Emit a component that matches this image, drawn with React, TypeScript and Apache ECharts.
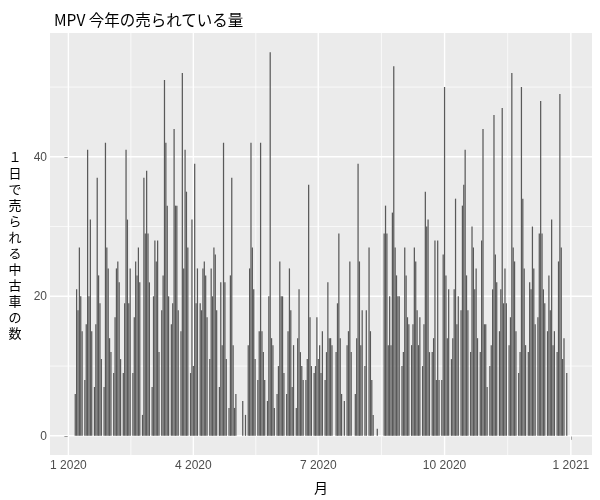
import React, { useEffect, useRef } from "react";
import * as echarts from "echarts";

// Daily number of used MPVs sold in 2020, one array per month (index = day of month - 1, null = no sales)
const jan = [null, null, null, null, null, 6, 21, 18, 27, 20, 15, null, 8, 16, 41, 20, 31, 15, null, 7, 16, 37, 23, 19, 11, null, 7, 42, 27, 24, 14];
const feb = [12, null, 9, 17, 24, 25, 22, 11, null, 9, 19, 41, 31, 19, 24, null, 9, 17, 25, 23, 27, 22, null, 3, 37, 29, 38, 29, 22];
const mar = [null, 7, 20, 28, 25, 28, 12, null, 18, 23, 51, 42, 33, 20, null, 16, 19, 44, 33, 33, 18, null, 15, 52, 24, 41, 35, 27, null, 9, 31];
const apr = [10, 39, 19, 24, null, 19, 18, 24, 25, 23, 17, null, 11, 24, 20, 27, 26, 18, null, 7, 22, 13, 42, 22, 11, null, 4, 23, 37, 13];
const may = [4, 6, null, null, null, null, 5, null, 3, null, 13, 24, 42, 27, 21, 11, null, 8, 15, 42, 15, 12, 8, null, 5, 20, 55, 14, 13, 4, null];
const jun = [6, 10, 25, 20, 20, 9, null, 6, 15, 24, 18, 7, 13, null, 4, 14, 21, 12, 10, 8, null, 8, 11, 36, 17, 10, null, 9, 10, 17];
const jul = [11, 13, 9, 15, null, 8, 12, 22, 14, 14, 13, null, null, 12, 19, 29, 14, 6, null, 5, null, 13, 15, 25, 12, null, null, 6, 14, 39, 25];
const aug = [13, 18, null, 10, 18, null, 27, 15, 8, 3, null, null, 1, null, null, null, null, 29, 33, 29, 13, 20, 13, 32, 53, 27, 23, 20, 20, null, 10];
const sep = [12, 27, 23, 17, 16, null, 13, 16, 27, 25, 18, 13, 17, null, 10, 16, 35, 30, 31, 12, null, 12, 14, 28, 8, 28, 8, null, 8, 26];
const oct = [50, 23, 14, 21, null, 11, 14, 21, 34, 16, 20, null, 18, 33, 36, 41, 23, 18, null, 12, 30, 27, 21, 24, 14, null, 12, 28, 44, 16, 16];
const nov = [7, null, 10, 13, 21, 46, 26, 22, null, 15, 21, 47, 19, 24, 19, null, 13, 17, 52, 27, 25, 15, null, 9, 12, 50, 34, 24, 13, null];
const dec = [12, 22, 21, 30, 24, 16, null, 17, 29, 48, 29, 21, 19, null, 15, 23, 18, 31, 13, 15, null, 12, 25, 49, 27, 11, 14, null, 9, null, null];

const months = [jan, feb, mar, apr, may, jun, jul, aug, sep, oct, nov, dec];
const year = 2020;

// x-axis breaks (dates) and y-axis breaks
const xBreakDates = ["2020-01-01", "2020-04-01", "2020-07-01", "2020-10-01", "2021-01-01"];
const yBreaks = [0, 20, 40];
const yMinorBreaks = [10, 30, 50];

const titleText = "MPV 今年の売られている量";
const xName = "月";
const yName = "１日で売られる中古車の数";

const DAY = 86400000;
const origin = Date.UTC(year, 0, 1);
const dayOf = (iso: string) => {
  const [y, m, d] = iso.split("-").map(Number);
  return (Date.UTC(y, m - 1, d) - origin) / DAY;
};

export default function App() {
  const ref = useRef<HTMLDivElement>(null);
  useEffect(() => {
    if (!ref.current) return;
    const chart = echarts.init(ref.current, undefined, { renderer: "svg" });

    const barData: [number, number][] = [];
    months.forEach((arr, m) => {
      arr.forEach((v, i) => {
        if (v == null) return;
        const d = (Date.UTC(year, m, i + 1) - origin) / DAY;
        barData.push([d, v as number]);
      });
    });
    const days = barData.map((p) => p[0]);
    const vals = barData.map((p) => p[1]);
    const dMin = Math.min(...days) - 0.45;
    const dMax = Math.max(...days) + 0.45;
    const dPad = (dMax - dMin) * 0.05;
    const vMax = Math.max(...vals);
    const yPad = vMax * 0.05;

    const majorX = xBreakDates.map(dayOf);
    const minorX = majorX.slice(0, -1).map((v, i) => (v + majorX[i + 1]) / 2);

    const labelFont = "'Liberation Sans', Arial, sans-serif";
    const cjkFont = "'Noto Sans CJK JP', 'Liberation Sans', sans-serif";

    chart.setOption({
      animation: false,
      title: {
        text: titleText,
        left: 49,
        top: 6,
        textStyle: { fontSize: 15.5, fontWeight: "normal", color: "#000", fontFamily: cjkFont },
      },
      grid: {
        left: 50,
        right: 8,
        top: 33,
        bottom: 45,
        show: true,
        backgroundColor: "#EBEBEB",
        borderWidth: 0,
      },
      xAxis: {
        type: "value",
        min: dMin - dPad,
        max: dMax + dPad,
        axisLine: { show: false },
        splitLine: { show: false },
        axisTick: { show: true, customValues: majorX, length: 4, lineStyle: { color: "#333", width: 1 } },
        axisLabel: {
          customValues: majorX,
          color: "#4D4D4D",
          fontSize: 12,
          margin: 4,
          fontFamily: labelFont,
          formatter: (v: number) => {
            const dt = new Date(origin + Math.round(v) * DAY);
            return `${dt.getUTCMonth() + 1} ${dt.getUTCFullYear()}`;
          },
        },
        name: xName,
        nameLocation: "middle",
        nameGap: 25,
        nameTextStyle: { color: "#000", fontSize: 14, fontFamily: cjkFont },
      },
      yAxis: {
        type: "value",
        min: -yPad,
        max: vMax + yPad,
        axisLine: { show: false },
        splitLine: { show: false },
        axisTick: { show: true, customValues: yBreaks, length: 4, lineStyle: { color: "#333", width: 1 } },
        axisLabel: {
          customValues: yBreaks,
          color: "#4D4D4D",
          fontSize: 12,
          margin: 3,
          fontFamily: labelFont,
        },
        name: yName.split("").join("\n"),
        nameLocation: "middle",
        nameRotate: 0,
        nameGap: 35,
        nameTextStyle: {
          color: "#000",
          fontSize: 13,
          lineHeight: 16,
          align: "center",
          verticalAlign: "middle",
          fontFamily: cjkFont,
        },
      },
      series: [
        {
          type: "custom",
          name: "vgrid",
          coordinateSystem: "cartesian2d",
          silent: true,
          z: 1,
          encode: { x: 0, y: 1 },
          data: majorX.map((v) => [v, 0, 1]).concat(minorX.map((v) => [v, 0, 0])),
          renderItem: (params: any, api: any) => {
            const x = api.coord([api.value(0), 0])[0];
            const cs = params.coordSys;
            return {
              type: "line",
              shape: { x1: x, y1: cs.y, x2: x, y2: cs.y + cs.height },
              style: { stroke: "#FFFFFF", lineWidth: api.value(2) ? 1.4 : 0.7 },
            };
          },
        },
        {
          type: "custom",
          name: "hgrid",
          coordinateSystem: "cartesian2d",
          silent: true,
          z: 1,
          encode: { x: 0, y: 1 },
          data: yBreaks.map((v) => [0, v, 1]).concat(yMinorBreaks.map((v) => [0, v, 0])),
          renderItem: (params: any, api: any) => {
            const y = api.coord([0, api.value(1)])[1];
            const cs = params.coordSys;
            return {
              type: "line",
              shape: { x1: cs.x, y1: y, x2: cs.x + cs.width, y2: y },
              style: { stroke: "#FFFFFF", lineWidth: api.value(2) ? 1.4 : 0.7 },
            };
          },
        },
        {
          type: "bar",
          name: "count",
          z: 2,
          data: barData,
          barWidth: "90%",
          itemStyle: { color: "#595959" },
          silent: true,
        },
      ],
    });
    return () => chart.dispose();
  }, []);
  return <div ref={ref} style={{ position: "fixed", left: 0, top: 0, width: 600, height: 500 }} />;
}
